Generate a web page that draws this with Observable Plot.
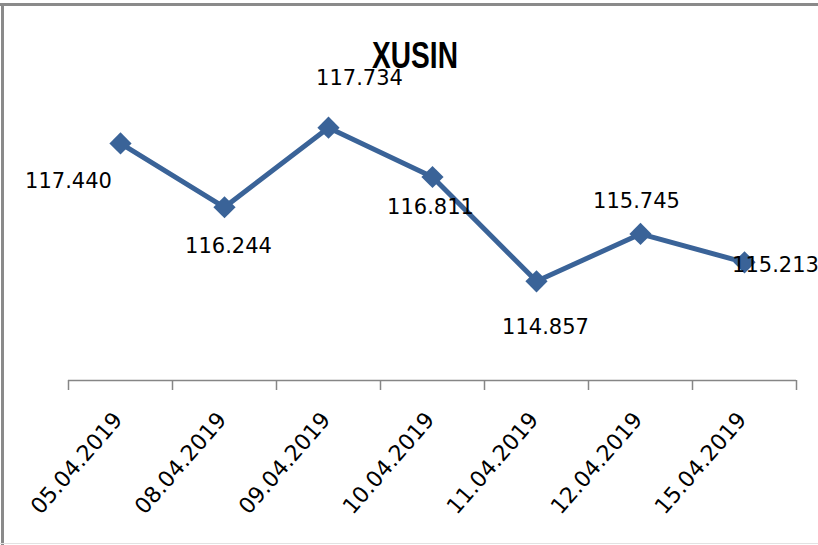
<!DOCTYPE html>
<html>
<head>
<meta charset="utf-8">
<script src="https://cdn.jsdelivr.net/npm/d3@7"></script>
<script src="https://cdn.jsdelivr.net/npm/@observablehq/plot@0.6"></script>
<style>
  html, body { margin: 0; padding: 0; background: #fff; }
  #wrap { position: relative; width: 818px; height: 545px; overflow: hidden; background: #fff; }
  #title {
    position: absolute; left: 315px; width: 200px; top: 37.5px; text-align: center;
    font-family: "Liberation Sans", Arial, sans-serif; font-weight: bold; font-size: 36px;
    line-height: 36px; color: #000; transform: scaleX(0.78); transform-origin: 50% 50%;
  }
  .bt { position: absolute; left: 0; top: 3px; width: 818px; height: 3px; background: #8a8a8a; }
  .bl { position: absolute; left: 1px; top: 3px; width: 3px; height: 542px; background: #8a8a8a; }
  .bb { position: absolute; left: 0; top: 543px; width: 818px; height: 1px; background: #e2e2e2; }
</style>
</head>
<body>
<div id="wrap"></div>
<script>
const title = "XUSIN";
const dates = ["05.04.2019", "08.04.2019", "09.04.2019", "10.04.2019", "11.04.2019", "12.04.2019", "15.04.2019"];
const values = [117.440, 116.244, 117.734, 116.811, 114.857, 115.745, 115.213];
const valueLabels = ["117.440", "116.244", "117.734", "116.811", "114.857", "115.745", "115.213"];

// label placement offsets (style only, px)
const labelOffsets = [[-52, 38], [4, 39], [31, -49], [-2, 30], [9, 46], [-4, -33], [31, 3]];

const color = "#3a6398";
const data = values.map((v, i) => ({i, v, label: valueLabels[i], date: dates[i]}));

const labelMarks = data.map((d, k) => Plot.text([d], {
  x: "i", y: "v", text: "label",
  dx: labelOffsets[k][0], dy: labelOffsets[k][1],
  fontSize: 21, fontFamily: "DejaVu Sans", fill: "#000", textAnchor: "middle"
}));

const chart = Plot.plot({
  width: 818,
  height: 545,
  marginLeft: 68,
  marginRight: 22,
  marginTop: 113,
  marginBottom: 165,
  style: {fontFamily: "DejaVu Sans", fontSize: "21px", color: "#000", background: "transparent", overflow: "visible"},
  x: {domain: [-0.5, 6.5], axis: null},
  y: {domain: [113, 118], axis: null},
  marks: [
    Plot.ruleY([113], {stroke: "#868686", strokeWidth: 1.5}),
    Plot.axisX({ticks: d3.range(-0.5, 7, 1), tickSize: 10, tickFormat: () => "", label: null, stroke: "#868686", strokeWidth: 1.5}),
    Plot.text(data, {x: "i", text: "date", frameAnchor: "bottom", rotate: -49, textAnchor: "end",
      dx: 3, dy: 40, fontSize: 22, fontFamily: "DejaVu Sans", fill: "#000"}),
    Plot.line(data, {x: "i", y: "v", stroke: color, strokeWidth: 5, strokeLinejoin: "miter"}),
    Plot.dot(data, {x: "i", y: "v", symbol: "diamond2", r: 10, fill: color, stroke: null}),
    ...labelMarks
  ]
});

const wrap = document.getElementById("wrap");
wrap.appendChild(chart);
const t = document.createElement("div");
t.id = "title"; t.textContent = title;
wrap.appendChild(t);
for (const c of ["bt", "bl", "bb"]) { const b = document.createElement("div"); b.className = c; wrap.appendChild(b); }
</script>
</body>
</html>
